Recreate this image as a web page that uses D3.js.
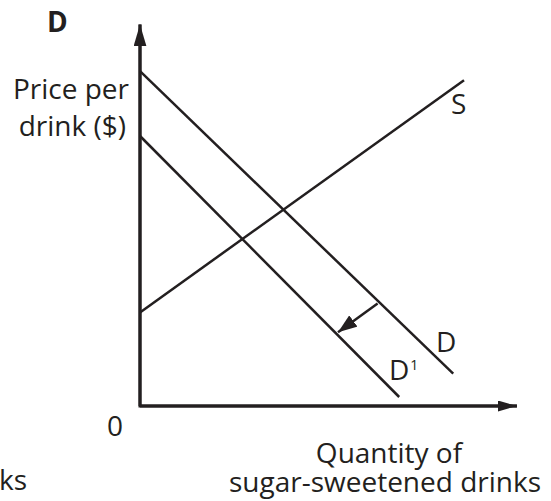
<!DOCTYPE html>
<html lang="en">
<head>
<meta charset="utf-8">
<title>Demand shift</title>
<script src="https://cdn.jsdelivr.net/npm/d3@7"></script>
<style>
  body { margin: 0; background: #fff; }
  text { font-family: "Open Sans", sans-serif; fill: #231f20; }
</style>
</head>
<body>
<div id="drawing"></div>
<script>
// curves in chart units (quantity, price)
var demand = [[0, 9.3], [8.7, 0.9]];
var demand1 = [[0, 7.5], [7.2, 0.25]];
var supply = [[0, 2.6], [9.0, 9.05]];
var shift = [[6.6, 2.85], [5.5, 2.05]];
var axisEnds = { x: 10.47, y: 10.6 };

var ink = '#231f20';
var width = 551, height = 501;
var fs = 28;

var svg = d3.select('#drawing').append('svg')
  .attr('width', width).attr('height', height);

var x = d3.scaleLinear().domain([0, 10]).range([140, 500]);
var y = d3.scaleLinear().domain([0, 10]).range([406, 46]);

var defs = svg.append('defs');
function arrowMarker(id, len, half) {
  defs.append('marker')
    .attr('id', id)
    .attr('markerUnits', 'userSpaceOnUse')
    .attr('viewBox', [0, -half, len, half * 2].join(' '))
    .attr('refX', len).attr('refY', 0)
    .attr('markerWidth', len).attr('markerHeight', half * 2)
    .attr('orient', 'auto')
    .append('path')
    .attr('d', 'M0,' + (-half) + 'L' + len + ',0L0,' + half + 'Z')
    .attr('fill', ink);
}
arrowMarker('axisY', 22, 6.5);
arrowMarker('axisX', 19, 5.5);
arrowMarker('shiftHead', 19, 7);

var line = d3.line().x(function(d) { return x(d[0]); }).y(function(d) { return y(d[1]); });

// axes
svg.append('path')
  .attr('d', line([[0, axisEnds.y], [0, 0], [axisEnds.x, 0]]))
  .attr('fill', 'none').attr('stroke', ink).attr('stroke-width', 3);
svg.append('path')
  .attr('d', line([[0, 0], [0, axisEnds.y]]))
  .attr('fill', 'none').attr('stroke', ink).attr('stroke-width', 3)
  .attr('marker-end', 'url(#axisY)');
svg.append('path')
  .attr('d', line([[0, 0], [axisEnds.x, 0]]))
  .attr('fill', 'none').attr('stroke', ink).attr('stroke-width', 3)
  .attr('marker-end', 'url(#axisX)');

[demand, demand1, supply].forEach(function(c) {
  svg.append('path')
    .attr('d', line(c))
    .attr('fill', 'none').attr('stroke', ink).attr('stroke-width', 2.5);
});

svg.append('path')
  .attr('d', line(shift))
  .attr('fill', 'none').attr('stroke', ink).attr('stroke-width', 2.5)
  .attr('marker-end', 'url(#shiftHead)');

// labels
svg.append('text').attr('x', 47).attr('y', 32)
  .attr('font-size', fs).attr('font-weight', 'bold').text('D');

svg.append('text').attr('x', 129).attr('y', 99)
  .attr('text-anchor', 'end').attr('font-size', fs).text('Price per');
svg.append('text').attr('x', 126).attr('y', 136)
  .attr('text-anchor', 'end').attr('font-size', fs).text('drink ($)');

svg.append('text').attr('x', 451).attr('y', 114)
  .attr('font-size', fs).text('S');
svg.append('text').attr('x', 436).attr('y', 352)
  .attr('font-size', fs).text('D');
var d1 = svg.append('text').attr('x', 389).attr('y', 380).attr('font-size', fs).text('D');
d1.append('tspan').attr('font-size', 14).attr('dx', 1).attr('dy', -10).text('1');

svg.append('text').attr('x', 107).attr('y', 436)
  .attr('font-size', fs).text('0');

svg.append('text').attr('x', 389).attr('y', 463)
  .attr('text-anchor', 'middle').attr('font-size', fs).text('Quantity of');
svg.append('text').attr('x', 385).attr('y', 492)
  .attr('text-anchor', 'middle').attr('font-size', fs).text('sugar-sweetened drinks');

svg.append('text').attr('x', -1).attr('y', 490)
  .attr('font-size', fs).text('ks');
</script>
</body>
</html>
